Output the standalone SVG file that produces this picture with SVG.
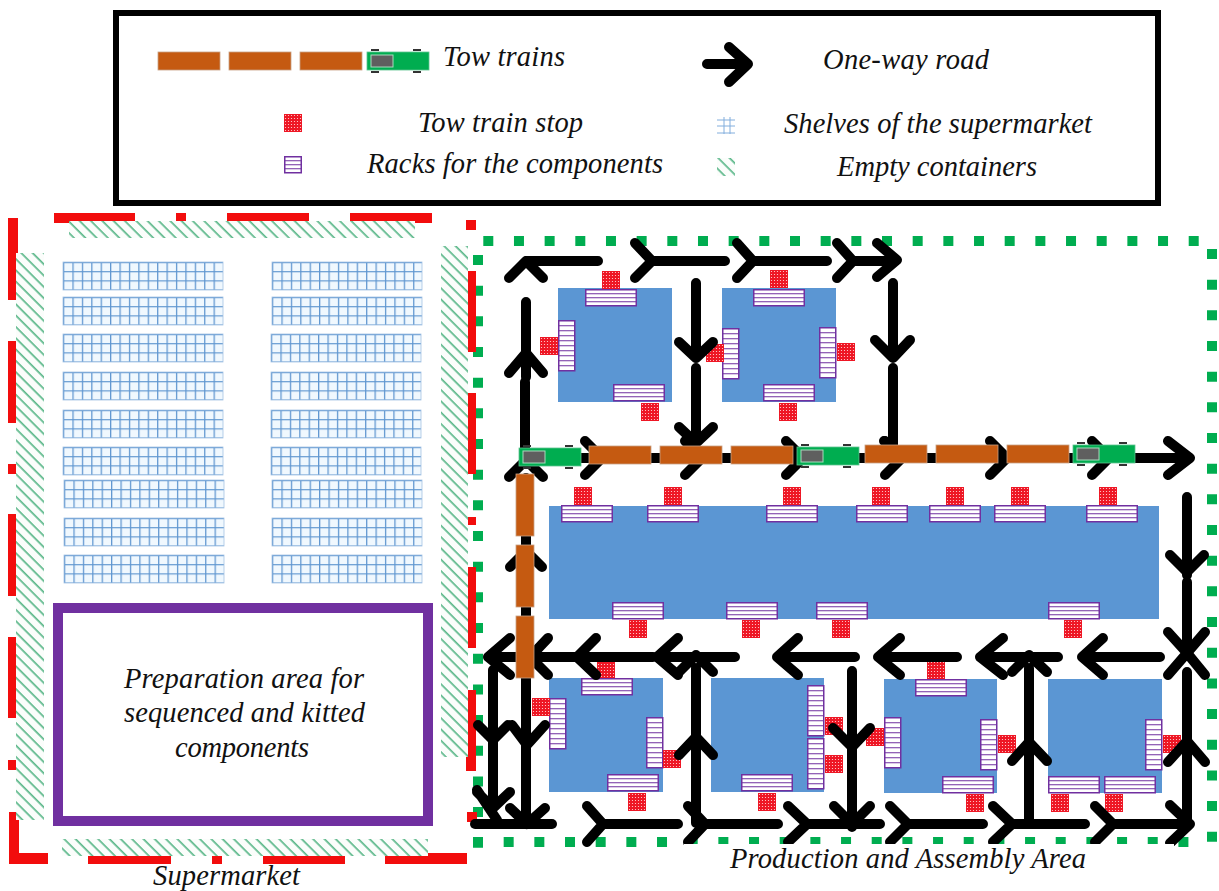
<svg xmlns="http://www.w3.org/2000/svg" width="1219" height="891" viewBox="0 0 1219 891">
<style>
text{font-family:"Liberation Serif","Times New Roman",serif;font-style:italic;font-size:28.5px;fill:#111}
.road{fill:none;stroke:#000;stroke-width:10;stroke-linecap:round;stroke-linejoin:round}
.block{fill:#5b96d3}
.car{fill:#c55a11;stroke:#c9a184;stroke-width:.8}
.red{fill:#f20d0d}
.hatch{fill:url(#hatchP)}
.stop{fill:url(#stopP)}
.dots{fill:none;stroke:#00ad50;stroke-width:10;stroke-dasharray:10 20.67}
.rb{fill:#fff;stroke:#7030a0;stroke-width:1.5}
.rl{stroke:#7030a0;stroke-width:1.1;fill:none}
</style>
<defs>
<pattern id="hatchP" width="8" height="8" patternUnits="userSpaceOnUse" patternTransform="rotate(45)">
<rect width="8" height="8" fill="#fbfdfb"/><rect width="8" height="1.7" y="3" fill="#5cb88a"/>
</pattern>
<pattern id="stopP" width="3" height="3" patternUnits="userSpaceOnUse">
<rect width="3" height="3" fill="#ee1624"/><circle cx="1.5" cy="1.5" r=".6" fill="#ffdcdc"/>
</pattern>
<pattern id="gridP" width="9.41" height="9.17" patternUnits="userSpaceOnUse">
<rect width="9.41" height="9.17" fill="#f0f8fe"/><path d="M.6 0V9.17M0 .6H9.41" stroke="#5f96d0" stroke-width="1.3" fill="none"/>
</pattern>
<g id="rh"><rect class="rb" x=".75" y=".75" width="50.5" height="16"/><path class="rl" d="M1 4.8H51M1 8.8H51M1 12.8H51"/></g>
<g id="rv"><rect class="rb" x=".75" y=".75" width="16" height="50"/><path class="rl" d="M1 5.8H17M1 10.8H17M1 15.8H17M1 20.8H17M1 25.8H17M1 30.8H17M1 35.8H17M1 40.8H17M1 45.8H17"/></g>
<rect id="st" class="stop" width="18" height="18"/>
<rect id="shelf" width="160" height="28" fill="url(#gridP)" stroke="#a5c4e4" stroke-width=".8"/>
<rect id="shelf2" width="150" height="28" fill="url(#gridP)" stroke="#a5c4e4" stroke-width=".8"/>
<rect id="ch" class="car" width="62" height="18"/>
<rect id="cv" class="car" width="18" height="62"/>
<g id="tractor">
<path d="M4 -3H12V-1H4ZM46 -3H54V-1H46ZM4 19H12V21H4ZM46 19H54V21H46Z" fill="#333"/>
<rect width="62" height="18" fill="#00ad50" stroke="#5ec48f" stroke-width=".8"/>
<rect x="4" y="3" width="22" height="12" fill="#5f5f5f" stroke="#a9d9bd" stroke-width="1"/>
</g>
</defs>
<rect width="1219" height="891" fill="#fff"/>

<g id="legend">
<rect x="116" y="13" width="1042" height="190" fill="#fff" stroke="#000" stroke-width="6"/>
<use href="#ch" x="158" y="52"/><use href="#ch" x="229" y="52"/><use href="#ch" x="300" y="52"/><use href="#tractor" x="367" y="52"/>
<text x="443" y="66" textLength="122">Tow trains</text>
<path class="road" d="M707 64H746M729 47L748 64L729 82"/>
<text x="823" y="69" textLength="166">One-way road</text>
<use href="#st" x="284" y="114"/>
<text x="418" y="132" textLength="165">Tow train stop</text>
<g transform="translate(284 156)"><rect class="rb" x=".75" y=".75" width="16.5" height="16"/><path class="rl" d="M1 4.8H17M1 8.8H17M1 12.8H17"/></g>
<text x="367" y="173" textLength="296">Racks for the components</text>
<path d="M717 120H735M717 126H735M717 133H735M724 117V134M730 117V134" stroke="#82aedd" stroke-width="1" fill="none"/>
<text x="784" y="133" textLength="308">Shelves of the supermarket</text>
<rect class="hatch" x="717" y="158" width="18" height="18"/>
<text x="837" y="176" textLength="200">Empty containers</text>
</g>

<g id="production-border">
<path class="dots" d="M483.3 241H1200"/>
<path class="dots" d="M478 255V850"/>
<path class="dots" d="M1212 249V845"/>
<path class="dots" d="M473 842H1190"/>
</g>

<g id="supermarket">
<g id="supermarket-border" class="red">
<rect x="54" y="213" width="81" height="10"/><rect x="176" y="213" width="10" height="10"/><rect x="227" y="213" width="82" height="10"/><rect x="350" y="213" width="82" height="10"/>
<rect x="466" y="220" width="10" height="10"/>
<rect x="8" y="218" width="10" height="82"/><rect x="8" y="341" width="10" height="82"/><rect x="8" y="464" width="10" height="10"/><rect x="8" y="514" width="10" height="82"/><rect x="8" y="637" width="10" height="81"/><rect x="8" y="760" width="10" height="10"/>
<path d="M9 812H19V853H48V864H9Z"/>
<rect x="88" y="853" width="83" height="11"/><rect x="212" y="853" width="10" height="11"/><rect x="263" y="853" width="82" height="11"/><rect x="385" y="853" width="82" height="11"/>
<rect x="468" y="271" width="8" height="81"/><rect x="468" y="393" width="8" height="81"/><rect x="468" y="517" width="8" height="8"/><rect x="468" y="567" width="8" height="81"/><rect x="468" y="690" width="8" height="81"/><rect x="466" y="757" width="10" height="14"/><rect x="467" y="812" width="10" height="10"/>
</g>
<g id="empty-containers">
<rect class="hatch" x="69" y="221" width="346" height="17"/>
<rect class="hatch" x="16" y="253" width="28" height="567"/>
<rect class="hatch" x="441" y="246" width="27" height="511"/>
<rect class="hatch" x="62" y="839" width="366" height="17"/>
</g>
<g id="shelves-left">
<use href="#shelf" x="63" y="262"/><use href="#shelf" x="63" y="297"/><use href="#shelf" x="63" y="334"/><use href="#shelf" x="63" y="372"/><use href="#shelf" x="63" y="410"/><use href="#shelf" x="63" y="447"/><use href="#shelf" x="64" y="480"/><use href="#shelf" x="64" y="518"/><use href="#shelf" x="64" y="555"/>
</g>
<g id="shelves-right">
<use href="#shelf2" x="272" y="262"/><use href="#shelf2" x="272" y="297"/><use href="#shelf2" x="271" y="334"/><use href="#shelf2" x="271" y="372"/><use href="#shelf2" x="271" y="410"/><use href="#shelf2" x="271" y="447"/><use href="#shelf2" x="272" y="480"/><use href="#shelf2" x="272" y="518"/><use href="#shelf2" x="272" y="555"/>
</g>
<g id="preparation-area">
<rect x="58" y="608" width="370" height="213" fill="#fff" stroke="#7030a0" stroke-width="10"/>
<text x="124" y="688" textLength="240">Preparation area for</text>
<text x="124" y="722" textLength="241">sequenced and kitted</text>
<text x="175" y="757" textLength="134">components</text>
</g>
<text id="supermarket-label" x="153" y="885" textLength="147">Supermarket</text>
</g>

<g id="station-a">
<rect class="block" x="558" y="288" width="114" height="114"/>
<use href="#rh" x="585" y="289"/><use href="#st" x="602" y="271"/>
<use href="#rv" x="558" y="320"/><use href="#st" x="540" y="337"/>
<use href="#rh" x="613" y="384"/><use href="#st" x="641" y="403"/>
</g>
<g id="station-b">
<rect class="block" x="722" y="288" width="114" height="114"/>
<use href="#rh" x="753" y="289"/><use href="#st" x="770" y="270"/>
<use href="#rv" x="722" y="328"/><use href="#st" x="706" y="344"/>
<use href="#rv" x="819" y="327"/><use href="#st" x="837" y="343"/>
<use href="#rh" x="763" y="384"/><use href="#st" x="779" y="403"/>
</g>
<g id="station-main">
<rect class="block" x="549" y="506" width="610" height="113"/>
<use href="#rh" x="561" y="505"/><use href="#rh" x="647" y="505"/><use href="#rh" x="766" y="505"/><use href="#rh" x="856" y="505"/><use href="#rh" x="929" y="505"/><use href="#rh" x="994" y="505"/><use href="#rh" x="1086" y="505"/>
<use href="#st" x="574" y="487"/><use href="#st" x="664" y="487"/><use href="#st" x="783" y="487"/><use href="#st" x="872" y="487"/><use href="#st" x="946" y="487"/><use href="#st" x="1011" y="487"/><use href="#st" x="1099" y="487"/>
<use href="#rh" x="612" y="602"/><use href="#rh" x="726" y="602"/><use href="#rh" x="816" y="602"/><use href="#rh" x="1048" y="602"/>
<use href="#st" x="629" y="620"/><use href="#st" x="742" y="620"/><use href="#st" x="832" y="620"/><use href="#st" x="1064" y="620"/>
</g>
<g id="station-c">
<rect class="block" x="549" y="678" width="114" height="114"/>
<use href="#rh" x="581" y="678"/><use href="#st" x="597" y="660"/>
<use href="#rv" x="549" y="698"/><use href="#st" x="532" y="698"/>
<use href="#rv" x="646" y="717"/><use href="#st" x="663" y="750"/>
<use href="#rh" x="607" y="774"/><use href="#st" x="628" y="793"/>
</g>
<g id="station-d">
<rect class="block" x="711" y="678" width="113" height="114"/>
<use href="#rv" x="807" y="685"/><use href="#st" x="825" y="717"/>
<use href="#rv" x="807" y="738"/><use href="#st" x="825" y="755"/>
<use href="#rh" x="741" y="774"/><use href="#st" x="758" y="793"/>
</g>
<g id="station-e">
<rect class="block" x="884" y="679" width="113" height="114"/>
<use href="#rh" x="915" y="679"/><use href="#st" x="927" y="661"/>
<use href="#rv" x="884" y="717"/><use href="#st" x="866" y="728"/>
<use href="#rv" x="980" y="719"/><use href="#st" x="998" y="735"/>
<use href="#rh" x="942" y="776"/><use href="#st" x="966" y="794"/>
</g>
<g id="station-f">
<rect class="block" x="1048" y="679" width="114" height="114"/>
<use href="#rv" x="1145" y="719"/><use href="#st" x="1163" y="735"/>
<use href="#rh" x="1048" y="776"/><use href="#st" x="1051" y="794"/>
<use href="#rh" x="1104" y="776"/><use href="#st" x="1105" y="794"/>
</g>

<g id="connectors" class="road">
<path d="M598 261H526M509 278L526 261L543 278"/>
<path d="M526 302V377M509 373L526 353L543 373"/>
<path d="M525 382V450M509 477L526 460L543 477"/>
<path d="M635 243L652 261L635 278M652 261H725"/>
<path d="M737 243L753 261L737 278M753 261H827"/>
<path d="M837 243L853 261L837 278M853 261H895M877 243L897 260L877 277"/>
<path d="M696 283V358M679 342L696 358L713 342"/>
<path d="M696 368V443M679 427L696 443L713 427"/>
<path d="M893 283V358M875 340L893 358L910 340"/>
<path d="M893 368V450M884 441L893 450"/>
<path d="M526 458H1190M1168 441L1190 458L1168 475"/>
<path d="M585 441L602 458L585 475M685 441L702 458L685 475M786 441L803 458L786 475M885 441L902 458L885 475M990 441L1007 458L990 475M1092 441L1109 458L1092 475"/>
<path d="M526 478V824M510 567L526 551L542 567"/>
<path d="M653 657H488M510 638L488 657L510 675M548 638L530 657L548 675M596 638L577 657L596 675"/>
<path d="M735 657H657M678 638L657 657L678 675"/>
<path d="M679 672L696 655L713 672M696 668V823M679 755L696 737L713 755"/>
<path d="M855 657H777M798 638L777 657L798 675"/>
<path d="M957 657H878M900 638L878 657L900 675"/>
<path d="M1058 657H980M1003 638L980 657L1003 675"/>
<path d="M1160 657H1082M1103 638L1082 657L1103 675"/>
<path d="M1012 672L1029 655L1047 672M1029 668V823M1012 761L1029 742L1047 761"/>
<path d="M1187 497V575M1170 555L1187 572L1204 555M1187 582V653M1168 632L1187 653L1205 632"/>
<path d="M1168 675L1187 653L1205 675M1187 672V824M1168 762L1187 741L1205 762"/>
<path d="M475 824H552"/>
<path d="M587 806L603 824L587 842M603 824H678"/>
<path d="M688 806L705 824L688 842M705 824H778"/>
<path d="M788 806L807 824L788 842M807 824H880"/>
<path d="M890 806L908 824L890 842M908 824H983"/>
<path d="M993 806L1012 824L993 842M1012 824H1085"/>
<path d="M1095 806L1113 824L1095 842M1113 824H1190M1170 805L1190 824L1170 843"/>
<path d="M852 671V827M833 728L852 747L870 728M834 806L852 824L870 806"/>
<path d="M493 670V807M478 725L493 740L508 725M477 792L493 808L510 792M477 790L497 820"/>
<path d="M512 725L527 745L545 725M510 808L527 824L545 808"/>
</g>

<g id="tow-train">
<use href="#tractor" x="519" y="448"/>
<use href="#ch" x="589" y="446"/><use href="#ch" x="660" y="446"/><use href="#ch" x="731" y="446"/>
<use href="#tractor" x="797" y="447"/>
<use href="#ch" x="865" y="445"/><use href="#ch" x="936" y="445"/><use href="#ch" x="1007" y="445"/>
<use href="#tractor" x="1073" y="445"/>
<use href="#cv" x="516" y="474"/><use href="#cv" x="516" y="545"/><use href="#cv" x="516" y="616"/>
</g>

<rect x="684" y="844" width="490" height="32" fill="#fff"/>
<text id="production-label" x="730" y="868" textLength="356">Production and Assembly Area</text>
</svg>
